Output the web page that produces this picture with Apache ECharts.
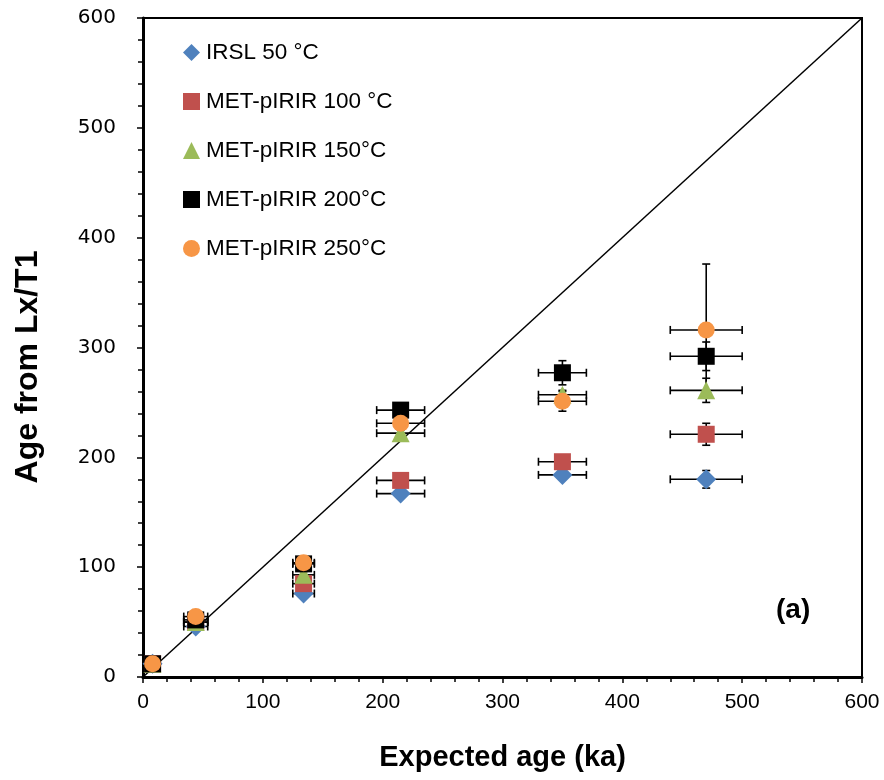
<!DOCTYPE html>
<html>
<head>
<meta charset="utf-8">
<script src="https://cdn.jsdelivr.net/npm/echarts@6/dist/echarts.min.js"></script>
<style>html,body{margin:0;padding:0;background:#fff}#c{width:884px;height:780px}</style>
</head>
<body>
<div id="c"></div>
<script>
// ---- data ----
var seriesNames = ['IRSL 50 °C', 'MET-pIRIR 100 °C', 'MET-pIRIR 150°C', 'MET-pIRIR 200°C', 'MET-pIRIR 250°C'];
var seriesColors = ['#4F81BD', '#C0504D', '#9BBB59', '#000000', '#F79646'];
var seriesSymbols = ['diamond', 'rect', 'triangle', 'rect', 'circle'];
var expectedAge = [8, 44, 134, 215, 350, 470];
var expectedAgeErr = [2, 10, 9, 20, 20, 30];
var irsl50 = [12, 46, 76, 167, 184, 180];
var irsl50Err = [1, 3, 3, 3, 4, 8];
var met100 = [12, 50, 85, 179, 196, 221];
var met100Err = [1, 3, 3, 3, 3, 10];
var met150 = [12, 50, 93, 222, 257, 261];
var met150Err = [1, 3, 3, 3, 4, 11];
var met200 = [12, 52, 103, 243, 277, 292];
var met200Err = [1, 3, 3, 4, 11, 13];
var met250 = [12, 55, 104, 231, 251, 316];
var met250Err = [1, 3, 3, 4, 9, 60];
var oneToOne = [[0, 0], [600, 600]];

var yVals = [irsl50, met100, met150, met200, met250];
var yErrs = [irsl50Err, met100Err, met150Err, met200Err, met250Err];

var chart = echarts.init(document.getElementById('c'));

var series = [];
// error bars (drawn below markers)
yVals.forEach(function (ys, si) {
  var d = ys.map(function (y, i) { return [expectedAge[i], y, expectedAgeErr[i], yErrs[si][i]]; });
  series.push({
    type: 'custom',
    name: seriesNames[si] + ' err',
    z: 2,
    silent: true,
    renderItem: function (params, api) {
      var x = api.value(0), y = api.value(1), xe = api.value(2), ye = api.value(3);
      var c = api.coord([x, y]);
      var l = api.coord([x - xe, y]), r = api.coord([x + xe, y]);
      var t = api.coord([x, y + ye]), b = api.coord([x, y - ye]);
      var cap = 4;
      var st = { stroke: '#000', lineWidth: 1.6, fill: null };
      return {
        type: 'group',
        children: [
          { type: 'line', shape: { x1: l[0], y1: c[1], x2: r[0], y2: c[1] }, style: st },
          { type: 'line', shape: { x1: l[0], y1: c[1] - cap, x2: l[0], y2: c[1] + cap }, style: st },
          { type: 'line', shape: { x1: r[0], y1: c[1] - cap, x2: r[0], y2: c[1] + cap }, style: st },
          { type: 'line', shape: { x1: c[0], y1: t[1], x2: c[0], y2: b[1] }, style: st },
          { type: 'line', shape: { x1: c[0] - cap, y1: t[1], x2: c[0] + cap, y2: t[1] }, style: st },
          { type: 'line', shape: { x1: c[0] - cap, y1: b[1], x2: c[0] + cap, y2: b[1] }, style: st }
        ]
      };
    },
    data: d
  });
});
// 1:1 line
series.push({
  type: 'line', name: '1:1', data: oneToOne, symbol: 'none', z: 1, silent: true,
  lineStyle: { color: '#000', width: 1.5 }
});
// markers
yVals.forEach(function (ys, si) {
  series.push({
    type: 'scatter',
    name: seriesNames[si],
    data: ys.map(function (y, i) { return [expectedAge[i], y]; }),
    symbol: seriesSymbols[si],
    symbolSize: seriesSymbols[si] === 'diamond' ? 20 : (seriesSymbols[si] === 'triangle' ? 18 : 17),
    itemStyle: { color: seriesColors[si], opacity: 1 },
    z: 3 + si
  });
});

chart.setOption({
  animation: false,
  backgroundColor: '#fff',
  grid: { left: 143, right: 22, top: 18, bottom: 103, show: true, borderColor: '#000', borderWidth: 2, backgroundColor: 'transparent' },
  legend: {
    data: seriesNames.map(function (n, i) { return { name: n, icon: seriesSymbols[i] }; }),
    orient: 'vertical', left: 178, top: 36,
    itemWidth: 17, itemHeight: 17, itemGap: 26,
    textStyle: { fontFamily: 'Liberation Sans, sans-serif', fontSize: 22.5, color: '#000', padding: [0, 0, 0, 1] }
  },
  xAxis: {
    type: 'value', min: 0, max: 600, interval: 100,
    axisLine: { show: true, onZero: false, lineStyle: { color: '#000', width: 3 } },
    axisTick: { show: true, inside: false, length: 6, lineStyle: { color: '#000', width: 1.5 } },
    minorTick: { show: true, splitNumber: 5, length: 5, lineStyle: { color: '#000', width: 1.5 } },
    splitLine: { show: false },
    axisLabel: { margin: 15, color: '#000', fontSize: 21, fontFamily: 'Liberation Sans, sans-serif' },
    name: 'Expected age (ka)', nameLocation: 'middle', nameGap: 66,
    nameTextStyle: { fontSize: 29, fontWeight: 'bold', color: '#000', fontFamily: 'Liberation Sans, sans-serif' }
  },
  yAxis: {
    type: 'value', min: 0, max: 600, interval: 100,
    axisLine: { show: true, onZero: false, lineStyle: { color: '#000', width: 3 } },
    axisTick: { show: true, inside: false, length: 6, lineStyle: { color: '#000', width: 1.5 } },
    minorTick: { show: true, splitNumber: 5, length: 5, lineStyle: { color: '#000', width: 1.5 } },
    splitLine: { show: false },
    axisLabel: { margin: 27, color: '#000', fontSize: 20, fontFamily: '"DejaVu Sans", Verdana, sans-serif' }
  },
  graphic: [
    { type: 'text', left: 776, top: 596, z: 20,
      style: { text: '(a)', font: 'bold 28px "Liberation Sans", sans-serif', fill: '#000' } },
    { type: 'text', x: 28, y: 367, rotation: Math.PI / 2, z: 20,
      style: { text: 'Age from Lx/T1', font: 'bold 32px "Liberation Sans", sans-serif', fill: '#000', textAlign: 'center', textVerticalAlign: 'middle' } }
  ],
  series: series
});
</script>
</body>
</html>
